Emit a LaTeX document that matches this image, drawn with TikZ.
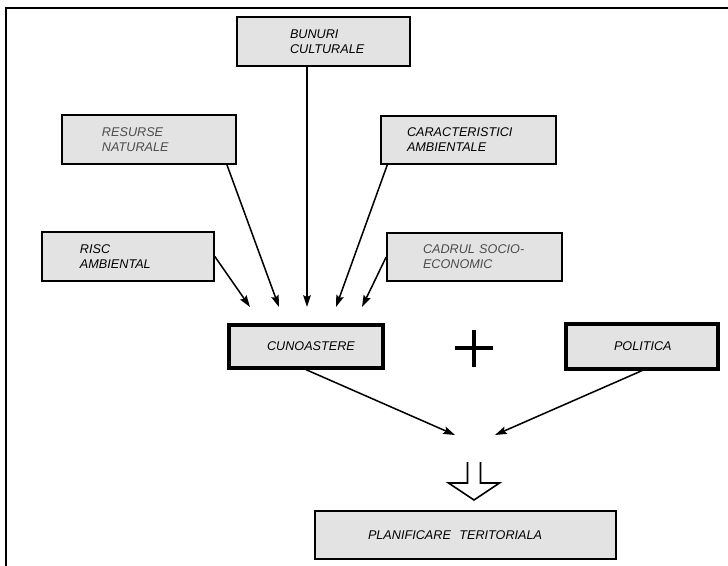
\documentclass[tikz,border=0pt]{standalone}
\usepackage{fontspec}
\setmainfont{Liberation Sans}
\usetikzlibrary{arrows.meta, calc, positioning}
\tikzstyle{box} = [rectangle, line width=1.4pt, draw=black, fill=black!11, align=left, font=\itshape\fontsize{10.8}{12.8}\selectfont]
\tikzstyle{keybox} = [box, line width=2.8pt]
\tikzstyle{faint} = [text=black!70]
\tikzstyle{arrow} = [line width=1.3pt, -{Stealth[length=10pt, width=6.5pt, inset=1.5pt]}]

\begin{document}
\begin{tikzpicture}[x=0.03cm, y=-0.03cm]
	\useasboundingbox (0,0) rectangle (728,566);
	\draw [line width=1.4pt] (6,566) -- (6,8) -- (728,8);
	\node (Bunuri) [box, text width=2.01cm, inner xsep=1.59cm, minimum height=1.47cm] at (323.5,41.5) {BUNURI\\CULTURALE};
	\node (Resurse) [box, faint, text width=2.82cm, inner xsep=1.2cm, minimum height=1.47cm] at (149,139.5) {RESURSE\\NATURALE};
	\node (Caract) [box, text width=3.69cm, inner xsep=0.78cm, minimum height=1.44cm] at (468.5,140) {CARACTERISTICI\\AMBIENTALE};
	\node (Risc) [box, text width=2.88cm, inner xsep=1.14cm, minimum height=1.47cm] at (128,256.5) {RISC\\AMBIENTAL};
	\node (Cadrul) [box, faint, text width=3.09cm, inner xsep=1.08cm, minimum height=1.44cm] at (474.5,257) {CADRUL SOCIO-\\ECONOMIC};
	\node (Cunoastere) [keybox, text width=2.34cm, inner xsep=1.14cm, minimum height=1.29cm] at (306,346.5) {CUNOASTERE};
	\node (Politica) [keybox, text width=1.68cm, inner xsep=1.44cm, minimum height=1.35cm] at (642,346.5) {POLITICA};
	\node (Planificare) [box, text width=5.85cm, inner xsep=1.59cm, minimum height=1.44cm] at (465.5,535) {PLANIFICARE\ \ TERITORIALA};
	\coordinate (In1) at (250,307);
	\coordinate (In2) at (279,307);
	\coordinate (In3) at (307,307);
	\coordinate (In4) at (336,307);
	\coordinate (In5) at (362,307);
	\coordinate (Meet1) at (455,435);
	\coordinate (Meet2) at (495,435);
	\coordinate (Plus) at (474,348);
	\coordinate (Down) at (474,462);
	\draw [arrow] (Risc.east) -- (In1);
	\draw [arrow] (Resurse.-18) -- (In2);
	\draw [arrow] (Bunuri.south -| In3) -- (In3);
	\draw [arrow] (Caract.197) -- (In4);
	\draw [arrow] (Cadrul.west) -- (In5);
	\draw [arrow] (Cunoastere.south) -- (Meet1);
	\draw [arrow] (Politica.south) -- (Meet2);
	\draw [line width=2.8pt] ($(Plus)+(-19,0)$) -- ($(Plus)+(19,0)$);
	\draw [line width=2.8pt] ($(Plus)+(0,-18.5)$) -- ($(Plus)+(0,18.5)$);
	\draw [line width=1.4pt] ($(Down)+(-6.5,0)$) -- ++(0,21) -- ++(-19,0) -- ($(Down)+(0,38)$) -- ($(Down)+(25.5,21)$) -- ++(-19,0) -- ++(0,-21);
\end{tikzpicture}
\end{document}
